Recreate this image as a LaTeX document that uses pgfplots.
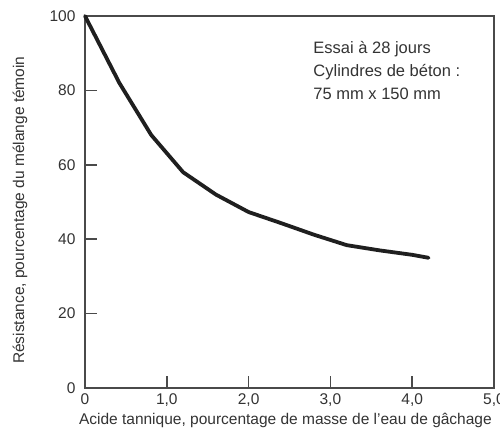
\documentclass[border=0pt]{standalone}
\usepackage{pgfplots}
\pgfplotsset{compat=1.18}
\usepackage{fontspec}
\setmainfont{Liberation Sans}
\usetikzlibrary{calc}
\definecolor{axgray}{HTML}{4A4A4A}
\definecolor{txtgray}{HTML}{333333}
\begin{document}
\begin{tikzpicture}
\begin{axis}[
    name=ax,
    scale only axis,
    width=409pt,
    height=372pt,
    xmin=0, xmax=5,
    ymin=0, ymax=100,
    xtick={0,1,2,3,4,5},
    xticklabels={0,{1,0},{2,0},{3,0},{4,0},{5,0}},
    ytick={0,20,40,60,80,100},
    tick align=inside,
    xtick pos=bottom,
    ytick pos=left,
    major tick length=12pt,
    axis line style={axgray, line width=1.6pt},
    every tick/.style={axgray, line width=1.6pt},
    tick label style={font=\fontsize{15.5}{17}\selectfont, text=txtgray},
    /pgf/number format/assume math mode=true,
    xticklabel style={yshift=-2pt},
    yticklabel style={xshift=-6pt},
    xlabel={Acide tannique, pourcentage de masse de l’eau de gâchage},
    ylabel={Résistance, pourcentage du mélange témoin},
    label style={font=\fontsize{15.5}{17}\selectfont, text=txtgray},
    xlabel style={at={(axis description cs:0.49,-0.088)}, anchor=center},
    ylabel style={at={(axis description cs:-0.159,0.478)}, anchor=center},
    clip=false,
]
% courbe de résistance
\addplot[line width=3.8pt, color=black!88, line join=round, line cap=round]
coordinates {
(0,100) (0.42,82) (0.81,68) (1.2,58) (1.6,52) (2.0,47.3)
(2.4,44.3) (2.8,41.2) (3.2,38.4) (3.6,37.0) (4.0,35.8) (4.2,35.0)
};
\node[anchor=base west, inner sep=0pt, text=txtgray, font=\fontsize{16.5}{18}\selectfont]
  at (axis cs:2.79,90.0) {Essai à 28 jours};
\node[anchor=base west, inner sep=0pt, text=txtgray, font=\fontsize{16.5}{18}\selectfont]
  at (axis cs:2.79,83.7) {Cylindres de béton :};
\node[anchor=base west, inner sep=0pt, text=txtgray, font=\fontsize{16.5}{18}\selectfont]
  at (axis cs:2.79,77.6) {75 mm x 150 mm};
\end{axis}
\pgfresetboundingbox
\path ($(ax.south west)+(-85pt,-43pt)$) rectangle ($(ax.north east)+(6pt,16pt)$);
\end{tikzpicture}
\end{document}
